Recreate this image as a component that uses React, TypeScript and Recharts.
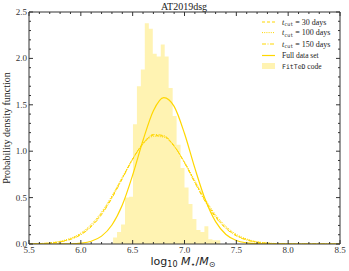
import { Area, ComposedChart, Line, XAxis, YAxis } from 'recharts';

const GOLD = '#FFD700';
const INK = '#333';
const SERIF = '"Liberation Serif", serif';
const SANS = '"DejaVu Sans", sans-serif';
const MONO = '"DejaVu Sans Mono", monospace';

// histogram of the FitTeD posterior
const binStarts = [
  6.311, 6.349, 6.388, 6.426, 6.464, 6.503, 6.541, 6.579, 6.617, 6.656, 6.694, 6.732, 6.771, 6.809,
  6.847, 6.886, 6.924, 6.962, 7.0, 7.039, 7.077, 7.115, 7.154, 7.192, 7.23, 7.269, 7.307,
];
const binWidth = 0.0383;
const binHeights = [
  0.07, 0.13, 0.21, 0.5, 0.51, 1.29, 1.7, 1.88, 2.38, 2.32, 2.05, 2.02, 2.15, 2.02, 1.68, 1.38, 1.07,
  0.82, 0.61, 0.43, 0.27, 0.15, 0.13, 0.19, 0.05, 0.04, 0.04,
];

// gaussian fits, read at 0.1 steps
const curveX = [
  5.5, 5.6, 5.7, 5.8, 5.9, 6.0, 6.1, 6.2, 6.3, 6.4, 6.5, 6.6, 6.7, 6.8, 6.9, 7.0, 7.1, 7.2, 7.3, 7.4,
  7.5, 7.6, 7.7, 7.8, 7.9, 8.0, 8.1, 8.2, 8.3, 8.4, 8.5,
];
const cut30 = [
  0.001, 0.004, 0.01, 0.025, 0.054, 0.107, 0.197, 0.329, 0.506, 0.711, 0.917, 1.083, 1.172, 1.161,
  1.055, 0.878, 0.669, 0.468, 0.299, 0.176, 0.094, 0.047, 0.021, 0.009, 0.003, 0.001, 0, 0, 0, 0, 0,
];
const cut100 = [
  0.002, 0.005, 0.013, 0.03, 0.062, 0.118, 0.212, 0.345, 0.52, 0.72, 0.918, 1.076, 1.16, 1.152, 1.052,
  0.884, 0.683, 0.484, 0.315, 0.19, 0.104, 0.054, 0.025, 0.011, 0.004, 0.001, 0, 0, 0, 0, 0,
];
const cut150 = [
  0.001, 0.003, 0.009, 0.022, 0.049, 0.099, 0.186, 0.316, 0.494, 0.702, 0.913, 1.085, 1.18, 1.168,
  1.058, 0.874, 0.66, 0.456, 0.287, 0.166, 0.087, 0.042, 0.018, 0.007, 0.003, 0.001, 0, 0, 0, 0, 0,
];
const fullSet = [
  0, 0, 0.0001, 0.0005, 0.002, 0.009, 0.03, 0.085, 0.205, 0.42, 0.743, 1.118, 1.437, 1.578, 1.483,
  1.191, 0.817, 0.479, 0.241, 0.103, 0.038, 0.012, 0.003, 0.001, 0, 0, 0, 0, 0, 0, 0,
];

const xTicks = Array.from({ length: 31 }, (_, i) => +(5.5 + i * 0.1).toFixed(1));
const yTicks = Array.from({ length: 26 }, (_, i) => +(i * 0.1).toFixed(1));

const histData = [
  ...binStarts.map((x, i) => ({ x, h: binHeights[i] })),
  { x: binStarts[binStarts.length - 1] + binWidth, h: 0 },
];
const curveData = curveX.map((x, i) => ({
  x,
  c30: cut30[i],
  c100: cut100[i],
  c150: cut150[i],
  full: fullSet[i],
}));

const isMajor = (v: number) => Math.abs(v * 2 - Math.round(v * 2)) < 1e-6;

function BottomTick({ x, y, payload }: any) {
  const v = payload.value;
  const major = isMajor(v);
  return (
    <g>
      <line x1={x} x2={x} y1={y} y2={y - (major ? 4 : 2)} stroke={INK} />
      {major && (
        <text x={x} y={y + 9} textAnchor="middle" fontSize={9} fontFamily={SERIF} fill={INK}>
          {v.toFixed(1)}
        </text>
      )}
    </g>
  );
}

function TopTick({ x, y, payload }: any) {
  const major = isMajor(payload.value);
  return <line x1={x} x2={x} y1={y} y2={y + (major ? 4 : 2)} stroke={INK} />;
}

function LeftTick({ x, y, payload }: any) {
  const v = payload.value;
  const major = isMajor(v);
  return (
    <g>
      <line x1={x} x2={x + (major ? 4 : 2)} y1={y} y2={y} stroke={INK} />
      {major && (
        <text x={x - 2} y={y + 3} textAnchor="end" fontSize={9} fontFamily={SERIF} fill={INK}>
          {v.toFixed(1)}
        </text>
      )}
    </g>
  );
}

function RightTick({ x, y, payload }: any) {
  const major = isMajor(payload.value);
  return <line x1={x} x2={x - (major ? 4 : 2)} y1={y} y2={y} stroke={INK} />;
}

const legendRows = [
  { dash: '3 2', label: '30 days', y: 22 },
  { dash: '1 1.2', label: '100 days', y: 32.6 },
  { dash: '4 1.5 1 1.5', label: '150 days', y: 44 },
];

function Overlay() {
  return (
    <svg width={349} height={271} style={{ position: 'absolute', left: 0, top: 0, pointerEvents: 'none' }}>
      <text x={184} y={10} textAnchor="middle" fontSize={10} fontFamily={SERIF} fill="#222">
        AT2019dsg
      </text>
      <text
        x={0}
        y={0}
        transform="translate(10 128) rotate(-90)"
        textAnchor="middle"
        fontSize={10}
        fontFamily={SERIF}
        fill="#222"
      >
        Probability density function
      </text>
      <text x={183} y={265} textAnchor="middle" fontSize={11} fontFamily={SANS} fill="#222">
        log
        <tspan fontSize={8} dy={2}>10</tspan>
        <tspan dy={-2} fontStyle="italic"> M</tspan>
        <tspan fontSize={8} dy={2}>⋆</tspan>
        <tspan dy={-2}>/</tspan>
        <tspan fontStyle="italic">M</tspan>
        <tspan fontSize={8} dy={2}>⊙</tspan>
      </text>

      {legendRows.map((r) => (
        <g key={r.label}>
          <line x1={262} x2={275} y1={r.y} y2={r.y} stroke={GOLD} strokeWidth={1} strokeDasharray={r.dash} />
          <text x={282} y={r.y + 2.8} fontSize={8} fontFamily={SERIF} fill="#222">
            <tspan fontStyle="italic">t</tspan>
            <tspan fontSize={5} dy={1.5} fontFamily={MONO}>cut</tspan>
            <tspan dy={-1.5}> = {r.label}</tspan>
          </text>
        </g>
      ))}
      <line x1={262} x2={275} y1={55.5} y2={55.5} stroke={GOLD} strokeWidth={1.2} />
      <text x={282} y={58} fontSize={7.5} fontFamily={SERIF} fill="#222">
        Full data set
      </text>
      <rect x={262} y={63} width={13} height={6} fill={GOLD} fillOpacity={0.3} />
      <text x={282} y={68.5} fontSize={7.5} fontFamily={SERIF} fill="#222">
        <tspan fontFamily={MONO} fontSize={6.5}>FitTeD</tspan> code
      </text>
    </svg>
  );
}

export default function App() {
  return (
    <div style={{ position: 'absolute', left: 0, top: 0, width: 349, height: 271, background: '#fff' }}>
      <ComposedChart width={349} height={271} margin={{ top: 11, right: 8, bottom: 0, left: 0 }}>
        <XAxis
          dataKey="x"
          type="number"
          domain={[5.5, 8.5]}
          ticks={xTicks}
          interval={0}
          allowDataOverflow
          height={27}
          tickSize={0}
          tickMargin={0}
          tickLine={false}
          axisLine={{ stroke: INK }}
          tick={<BottomTick />}
        />
        <XAxis
          xAxisId="top"
          orientation="top"
          dataKey="x"
          type="number"
          domain={[5.5, 8.5]}
          ticks={xTicks}
          interval={0}
          allowDataOverflow
          height={1}
          tickSize={0}
          tickMargin={0}
          tickLine={false}
          axisLine={{ stroke: INK }}
          tick={<TopTick />}
        />
        <YAxis
          type="number"
          domain={[0, 2.5]}
          ticks={yTicks}
          interval={0}
          allowDataOverflow
          width={29}
          tickSize={0}
          tickMargin={0}
          tickLine={false}
          axisLine={{ stroke: INK }}
          tick={<LeftTick />}
        />
        <YAxis
          yAxisId="right"
          orientation="right"
          type="number"
          domain={[0, 2.5]}
          ticks={yTicks}
          interval={0}
          allowDataOverflow
          width={1}
          tickSize={0}
          tickMargin={0}
          tickLine={false}
          axisLine={{ stroke: INK }}
          tick={<RightTick />}
        />
        <Area
          data={histData}
          dataKey="h"
          type="stepAfter"
          fill={GOLD}
          fillOpacity={0.3}
          stroke="none"
          isAnimationActive={false}
        />
        <Line data={curveData} dataKey="c30" type="monotone" stroke={GOLD} strokeWidth={1} strokeDasharray="3 2" dot={false} isAnimationActive={false} />
        <Line data={curveData} dataKey="c100" type="monotone" stroke={GOLD} strokeWidth={1} strokeDasharray="1 1.2" dot={false} isAnimationActive={false} />
        <Line data={curveData} dataKey="c150" type="monotone" stroke={GOLD} strokeWidth={1} strokeDasharray="4 1.5 1 1.5" dot={false} isAnimationActive={false} />
        <Line data={curveData} dataKey="full" type="monotone" stroke={GOLD} strokeWidth={1.2} dot={false} isAnimationActive={false} />
      </ComposedChart>
      <Overlay />
    </div>
  );
}
